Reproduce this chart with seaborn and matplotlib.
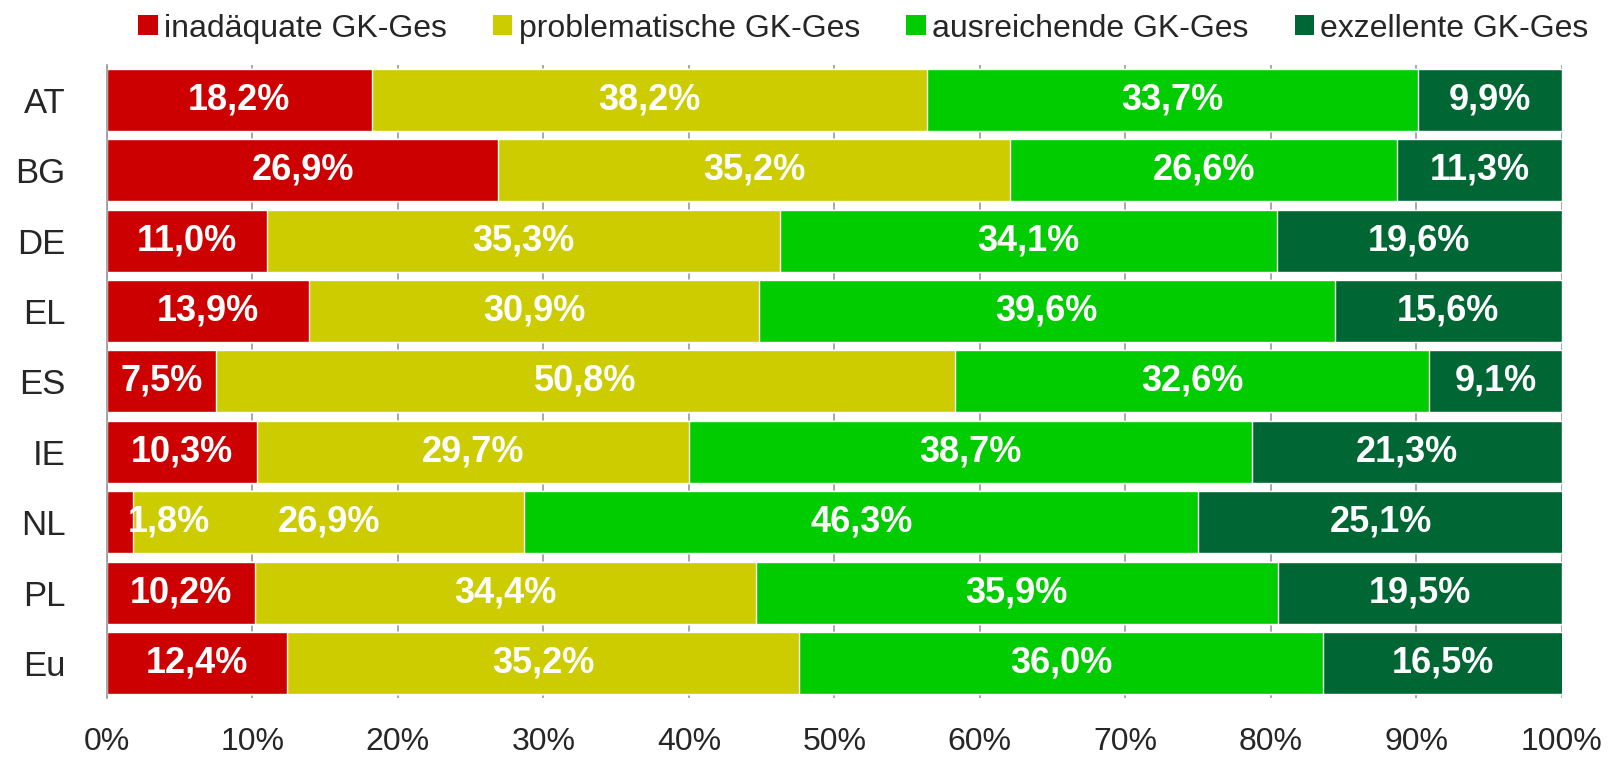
import numpy as np
import pandas as pd
import matplotlib
matplotlib.use("Agg")
import matplotlib.pyplot as plt
import seaborn as sns
from matplotlib.patches import Patch

countries = ["AT", "BG", "DE", "EL", "ES", "IE", "NL", "PL", "Eu"]
inadaequat = [18.2, 26.9, 11.0, 13.9, 7.5, 10.3, 1.8, 10.2, 12.4]
problematisch = [38.2, 35.2, 35.3, 30.9, 50.8, 29.7, 26.9, 34.4, 35.2]
ausreichend = [33.7, 26.6, 34.1, 39.6, 32.6, 38.7, 46.3, 35.9, 36.0]
exzellent = [9.9, 11.3, 19.6, 15.6, 9.1, 21.3, 25.1, 19.5, 16.5]

series_names = ["inadäquate GK-Ges", "problematische GK-Ges",
                "ausreichende GK-Ges", "exzellente GK-Ges"]
colors = ["#CC0000", "#CCCC00", "#00CC00", "#006633"]
xticks = [0, 10, 20, 30, 40, 50, 60, 70, 80, 90, 100]

df = pd.DataFrame({"Land": countries, series_names[0]: inadaequat,
                   series_names[1]: problematisch, series_names[2]: ausreichend,
                   series_names[3]: exzellent})
cum = df[series_names].cumsum(axis=1)

sns.set_style("white")
plt.rcParams["font.family"] = ["Liberation Sans", "DejaVu Sans"]

fig = plt.figure(figsize=(16.2, 7.59), dpi=100)
ax = fig.add_axes([0.066, 0.08, 0.898, 0.835])

# stacked bars: draw cumulative totals from the outermost segment inward
for name, col in reversed(list(zip(series_names, colors))):
    sns.barplot(x=cum[name], y=df["Land"], color=col, orient="h",
                width=0.88, saturation=1, ax=ax, zorder=2)

# value labels
for i, row in df.iterrows():
    start = 0
    for name in series_names:
        v = row[name]
        txt = f"{v:.1f}%".replace(".", ",")
        if v < 4:
            ax.text(start + 1.4, i, txt, ha="left", va="center", color="white",
                    fontsize=26, fontweight="bold", zorder=3)
        else:
            ax.text(start + v / 2, i, txt, ha="center", va="center", color="white",
                    fontsize=26, fontweight="bold", zorder=3)
        start += v

ax.set_xlim(0, 100)
ax.set_ylim(len(countries) - 0.5, -0.5)
ax.set_xticks(xticks)
ax.set_xticklabels([f"{t}%" for t in xticks], fontsize=23)
ax.tick_params(axis="x", length=0, pad=21)
ax.tick_params(axis="y", length=0, labelsize=25, pad=30)
ax.set_yticks(np.arange(len(countries) + 1) - 0.5, minor=True)
ax.tick_params(axis="y", which="minor", length=8, color="#999999", width=1.2)
ax.set_xlabel("")
ax.set_ylabel("")
ax.grid(axis="x", color="#999999", linewidth=1.2, zorder=0)
ax.set_axisbelow(True)
for s in ["top", "right", "bottom"]:
    ax.spines[s].set_visible(False)
ax.spines["left"].set_color("#999999")
ax.spines["left"].set_linewidth(1.2)

handles = [Patch(facecolor=c, edgecolor="none") for c in colors]
fig.legend(handles, series_names, loc="upper center", ncol=4,
           bbox_to_anchor=(0.533, 1.02), frameon=False, fontsize=23,
           handlelength=0.6, handleheight=0.6, handletextpad=0.2,
           columnspacing=1.45)

fig.savefig("out.png", dpi=100)
